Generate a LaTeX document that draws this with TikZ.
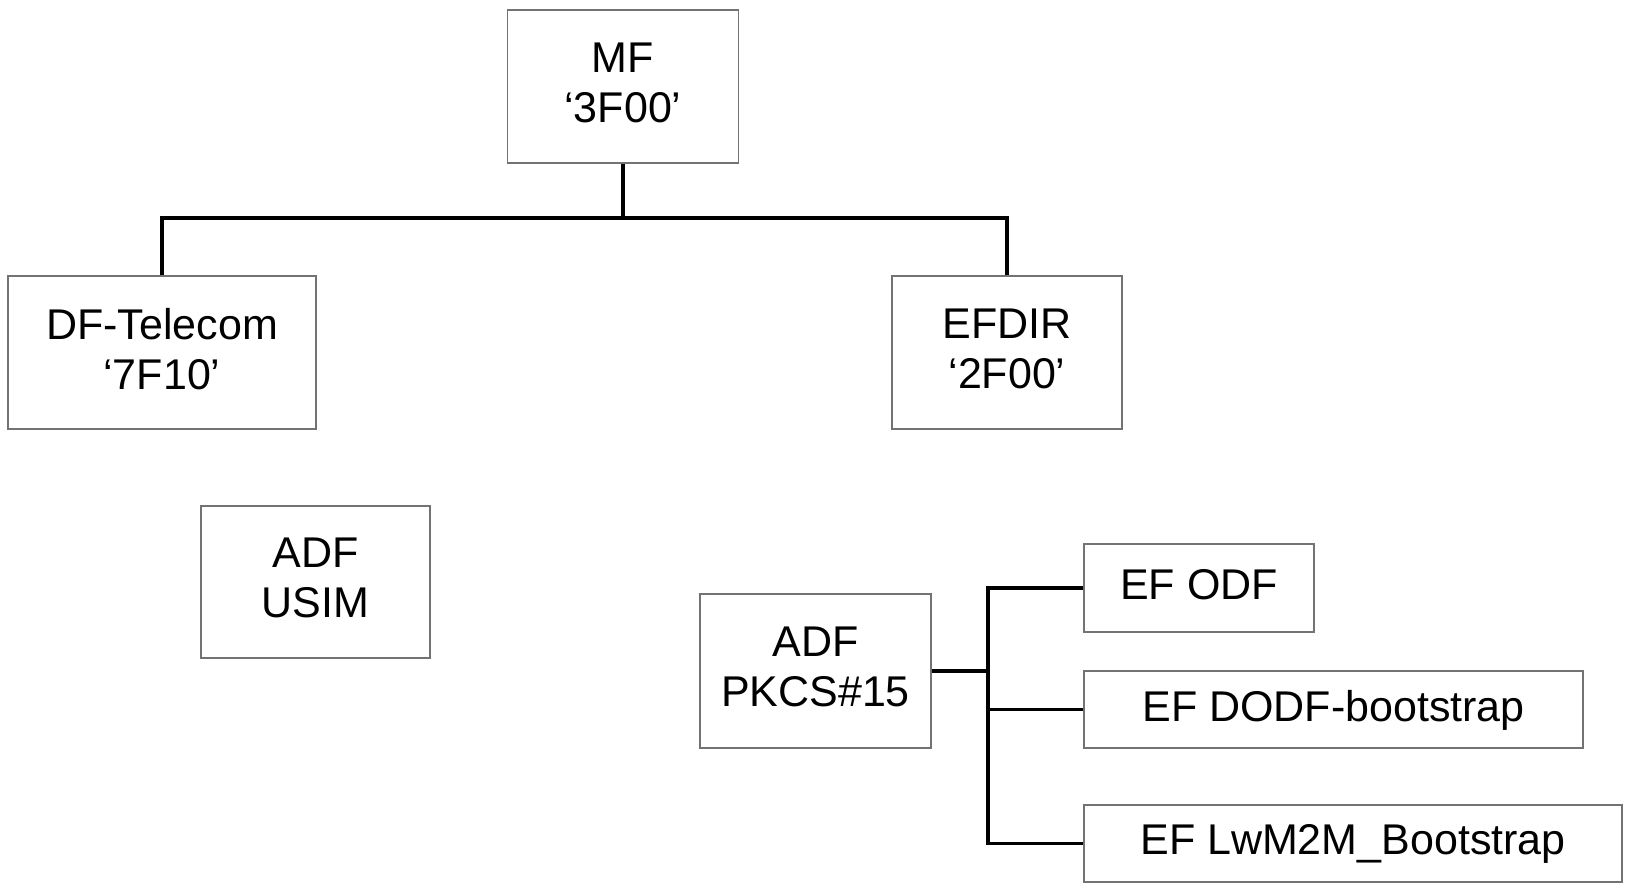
\documentclass[tikz,border=0pt]{standalone}
\usepackage{fontspec}
\setmainfont{Liberation Sans}
\begin{document}
\begin{tikzpicture}[x=1pt,y=-1pt,
  filebox/.style={draw=black!55, line width=1.2pt, rectangle, inner sep=0pt, align=center,
    text depth=8pt, font=\fontsize{43}{50}\selectfont},
  link/.style={draw=black, line width=3.2pt}]
\useasboundingbox[fill=white] (0,0) rectangle (1630,889);
\node[filebox, minimum width=231pt, minimum height=153pt] (MF) at (623,86.5) {MF\\‘3F00’};
\node[filebox, minimum width=308pt, minimum height=153pt] (DF) at (162,352.5) {DF-Telecom\\‘7F10’};
\node[filebox, minimum width=230pt, minimum height=153pt] (EFDIR) at (1007,352.5) {EFDIR\\‘2F00’};
\node[filebox, minimum width=229pt, minimum height=152pt] (USIM) at (315.5,582) {ADF\\USIM};
\node[filebox, minimum width=231pt, minimum height=154pt] (PKCS) at (815.5,671) {ADF\\PKCS\#15};
\node[filebox, minimum width=230pt, minimum height=88pt] (ODF) at (1199,588) {EF ODF};
\node[filebox, minimum width=499pt, minimum height=77pt] (DODF) at (1333.5,709.5) {EF DODF-bootstrap};
\node[filebox, minimum width=538pt, minimum height=77pt] (LW) at (1353,843.5) {EF LwM2M\_Bootstrap};
\coordinate (bus) at (623,218);
\coordinate (pb) at (988,671);
\draw[link] (MF.south) -- (bus);
\draw[link] (DF.north) -- (DF.north |- bus) -- (EFDIR.north |- bus) -- (EFDIR.north);
\draw[link] (PKCS.east) -- (pb);
\draw[link] (ODF.west) -- (ODF.west -| pb) -- (LW.west -| pb) -- (LW.west);
\draw[link] (DODF.west) -- (DODF.west -| pb);
\end{tikzpicture}
\end{document}
